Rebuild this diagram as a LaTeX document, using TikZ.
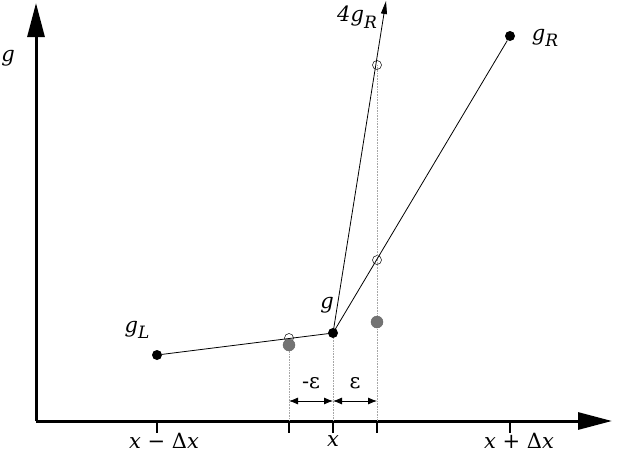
\documentclass[tikz,border=0pt]{standalone}
\usepackage{fontspec}
\setmainfont{DejaVu Serif}
\usetikzlibrary{arrows.meta}
\newcommand\mysub[1]{\raisebox{-0.32em}{\fontsize{17}{17}\selectfont\itshape #1}}
\begin{document}
\begin{tikzpicture}[x=1pt,y=-1pt,
  axis/.style={line width=3pt,-{Triangle[length=34pt,width=17pt]}},
  thinline/.style={line width=0.8pt},
  guide/.style={gray!70,densely dotted,line width=0.6pt},
  tick/.style={line width=1.6pt},
  dot/.style={circle,fill=black,inner sep=0pt,minimum size=10pt},
  odot/.style={circle,draw=black,fill=none,inner sep=0pt,minimum size=9pt,line width=0.5pt},
  gdot/.style={circle,draw=black!60,fill=black!55,inner sep=0pt,minimum size=12pt,line width=0.4pt},
  dim/.style={line width=0.8pt,{Latex[length=9pt,width=7pt]}-{Latex[length=9pt,width=7pt]}},
  lbl/.style={font=\fontsize{21}{25}\selectfont\itshape,inner sep=0pt}]
\useasboundingbox (0,0) rectangle (622,453);
% axes
\coordinate (O) at (36,421);
\coordinate (ytip) at (36,3);
\coordinate (xtip) at (612,421);
\draw[axis] (O) -- (ytip);
\draw[axis] (O) -- (xtip);
% points
\node[dot] (gL) at (157,355) {};
\node[dot] (g) at (333,333) {};
\node[dot] (gR) at (510,36) {};
\coordinate (top) at (386,1);
% guides
\coordinate (t1) at (289,421);
\coordinate (t2) at (333,421);
\coordinate (t3) at (377,421);
\node[odot] (o1) at (289,338) {};
\node[odot] (o2) at (377,65) {};
\node[odot] (o3) at (377,260) {};
\draw[guide] (289,338) -- (t1);
\draw[guide] (g) -- (t2);
\draw[guide] (377,65) -- (t3);
\node[gdot] (f1) at (289,345) {};
\node[gdot] (f2) at (377,322) {};
% lines
\draw[thinline] (gL) -- (g.center);
\draw[thinline] (g.center) -- (gR);
\draw[thinline,-{Triangle[length=13pt,width=6pt]}] (g.center) -- (top);
% ticks
\coordinate (k0) at (157,421);
\coordinate (k4) at (510,421);
\foreach \p in {k0,t1,t2,t3,k4} \draw[tick] (\p) -- ++(0,12);
% dimension arrows
\coordinate (d1) at (289,401);
\coordinate (d2) at (333,401);
\coordinate (d3) at (377,401);
\draw[dim] (d1) -- (d2);
\draw[dim] (d2) -- (d3);
\node[lbl,font=\fontsize{21}{25}\selectfont\upshape] (me) at (311,383) {-ε};
\node[lbl,font=\fontsize{21}{25}\selectfont\upshape] (pe) at (355,383) {ε};
% labels
\node[lbl] (lg) at (8,58) {g};
\node[lbl] (lgL) at (137,330) {g\mysub{L}};
\node[lbl] (lg0) at (327,305) {g};
\node[lbl] (lgR) at (545,38) {g\mysub{R}};
\node[lbl] (l4) at (357,17) {4g\mysub{R}};
\node[lbl] (x0) at (164,441) {x − {\upshape Δ}x};
\node[lbl] (x1) at (333,441) {x};
\node[lbl] (x2) at (519,441) {x + {\upshape Δ}x};
\end{tikzpicture}
\end{document}
